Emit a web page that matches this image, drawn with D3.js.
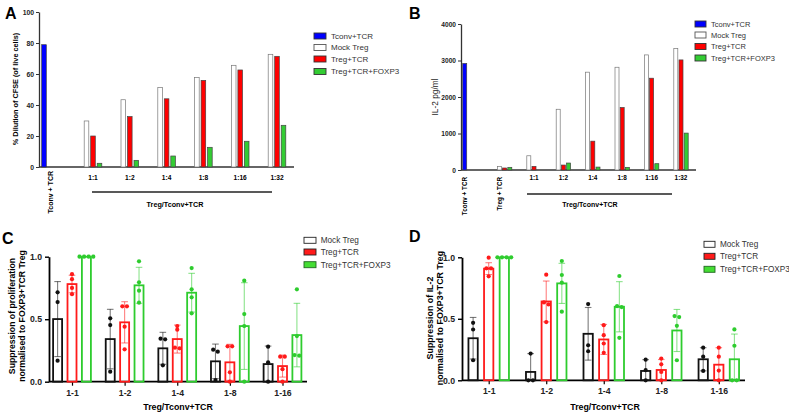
<!DOCTYPE html>
<html><head><meta charset="utf-8">
<script src="https://cdn.jsdelivr.net/npm/d3@7"></script>
<style>body{margin:0;background:#fff} svg{display:block} text{font-family:"Liberation Sans",Arial,sans-serif}</style>
</head><body><svg id="c" width="789" height="414"></svg>
<script>
// ---------- DATA ----------
const ratioCats = ["1:1","1:2","1:4","1:8","1:16","1:32"];
const seriesAB = ["Tconv+TCR","Mock Treg","Treg+TCR","Treg+TCR+FOXP3"];
const ctrlLabelA = "Tconv + TCR";
const ctrlLabelsB = ["Tconv + TCR","Treg + TCR"];
const yTicksA = [0,20,40,60,80,100];
const tconvA = 78.9;
const mockA = [29.7,43.4,51.2,57.8,65.6,72.7];
const tcrA  = [20.0,32.5,44.0,55.9,62.6,71.4];
const foxA  = [2.4,4.3,7.1,12.7,16.6,26.9];

const yTicksB = [0,1000,2000,3000,4000];
const tconvB = 2920;
const tregCtrlB = [100,55,73];           // Mock, Treg+TCR, Treg+TCR+FOXP3 in "Treg + TCR"
const mockB = [390,1664,2680,2815,3153,3326];
const tcrB  = [100,136,790,1713,2515,3016];
const foxB  = [0,191,80,73,173,1011];

const groupsCD = ["1-1","1-2","1-4","1-8","1-16"];
const seriesCD = ["Mock Treg","Treg+TCR","Treg+TCR+FOXP3"];
const yTicksCD = [0,0.5,1.0];

const meanC_mock = [0.501,0.341,0.267,0.163,0.141];
const meanC_tcr  = [0.781,0.475,0.341,0.155,0.125];
const meanC_fox  = [1.0,0.771,0.712,0.445,0.373];
const sdC_mock = [0.30,0.238,0.128,0.138,0.144];
const sdC_tcr  = [0.07,0.165,0.112,0.144,0.088];
const sdC_fox  = [0,0.144,0.155,0.347,0.254];
const ptsC_mock = [[0.715,0.637,0.168],[0.507,0.453,0.08],[0.344,0.339,0.131],[0.256,0.24,0.013],[0.28,0.155,0.0]];
const ptsC_tcr  = [[0.86,0.82,0.75,0.70],[0.603,0.603,0.44,0.259],[0.445,0.416,0.272,0.267],[0.283,0.283,0.075,0.0],[0.2,0.2,0.1,0.0]];
const ptsC_fox  = [[1,1,1,1],[0.963,0.795,0.728,0.632],[0.909,0.739,0.675,0.547],[0.808,0.541,0.445,0.0],[0.739,0.365,0.213,0.208]];

const meanD_mock = [0.342,0.068,0.378,0.076,0.171];
const meanD_tcr  = [0.908,0.641,0.332,0.084,0.127];
const meanD_fox  = [1.0,0.788,0.598,0.405,0.171];
const sdD_mock = [0.169,0.149,0.214,0.092,0.094];
const sdD_tcr  = [0.048,0.166,0.122,0.085,0.138];
const sdD_fox  = [0,0.163,0.204,0.171,0.205];
const ptsD_mock = [[0.467,0.413,0.163],[0.217,0,0],[0.62,0.285,0.236],[0.168,0.082,0],[0.265,0.192,0.076]];
const ptsD_tcr  = [[0.997,0.91,0.91,0.845],[0.859,0.633,0.617,0.473],[0.448,0.367,0.299,0.223],[0.177,0.13,0.068,0],[0.265,0.192,0.079,0]];
const ptsD_fox  = [[1,1,1,1],[0.97,0.856,0.794,0.558],[0.848,0.603,0.595,0.345],[0.522,0.514,0.443,0.163],[0.414,0.281,0,0]];

// ---------- STYLE ----------
const fillAB = ["#0000ff","#ffffff","#ff0000","#33cc33"];
const colCD = ["#111111","#ff1a1a","#2ecc2e"];
const svg = d3.select("#c");

function styleAxis(g, fs, sw, col){
  g.select(".domain").attr("stroke",col).attr("stroke-width",sw);
  g.selectAll(".tick line").attr("stroke",col).attr("stroke-width",sw*0.8);
  g.selectAll(".tick text").attr("font-size",fs).attr("font-weight","bold").attr("fill","#222")
   .attr("font-family","Liberation Sans, Arial, sans-serif");
}
function letter(t,x,y){
  svg.append("text").attr("x",x).attr("y",y).attr("font-size",16).attr("font-weight","bold").text(t);
}
function legend(items, fills, strokes, x, rows, sw, sh, tx, fs){
  const g = svg.append("g");
  items.forEach((t,i)=>{
    g.append("rect").attr("x",x).attr("y",rows[i]-sh/2).attr("width",sw).attr("height",sh)
     .attr("fill",fills[i]).attr("stroke",strokes[i]).attr("stroke-width",0.9);
    g.append("text").attr("x",tx).attr("y",rows[i]+fs*0.35).attr("font-size",fs).attr("fill","#333").text(t);
  });
}

// ---------- PANEL A ----------
(function(){
  const y = d3.scaleLinear().domain([0,100]).range([167,12]);
  const x = d3.scalePoint().domain(ratioCats).range([93,277]);
  const step = x.step(), slot = 6.5, bw = 4.6;
  const g = svg.append("g");
  const ax = g.append("g").attr("transform","translate(39,0)")
    .call(d3.axisLeft(y).tickValues(yTicksA).tickSize(3).tickSizeOuter(0).tickPadding(2));
  styleAxis(ax,6.8,1.3,"#333");
  g.append("line").attr("x1",39).attr("x2",294).attr("y1",y(0)).attr("y2",y(0)).attr("stroke","#333").attr("stroke-width",1.3);
  const ctr = x(ratioCats[0]) - 1.155*step;
  g.append("rect").attr("x",ctr-slot-bw/2).attr("y",y(tconvA)).attr("width",bw).attr("height",y(0)-y(tconvA))
    .attr("fill",fillAB[0]).attr("stroke","#333").attr("stroke-width",0.6);
  [mockA,tcrA,foxA].forEach((arr,s)=>{
    g.selectAll(null).data(arr).enter().append("rect")
      .attr("x",(d,i)=>x(ratioCats[i])+(s-1)*slot-bw/2).attr("y",d=>y(d))
      .attr("width",bw).attr("height",d=>y(0)-y(d))
      .attr("fill",fillAB[s+1]).attr("stroke",s===0?"#777":"#444").attr("stroke-width",0.7);
  });
  g.selectAll(null).data(ratioCats).enter().append("text")
    .attr("x",d=>x(d)).attr("y",179.5).attr("text-anchor","middle").attr("font-size",6.6).attr("font-weight","bold").text(d=>d);
  g.append("text").attr("transform",`translate(${ctr},171) rotate(-90)`).attr("text-anchor","end").attr("dy","0.35em")
    .attr("font-size",7).attr("font-weight","bold").text(ctrlLabelA);
  g.append("line").attr("x1",x("1:1")-1).attr("x2",x("1:32")-5).attr("y1",192).attr("y2",192).attr("stroke","#222").attr("stroke-width",1.6);
  g.append("text").attr("x",175).attr("y",206.5).attr("text-anchor","middle").attr("font-size",7.2).attr("font-weight","bold").text("Treg/Tconv+TCR");
  g.append("text").attr("transform","translate(15,89) rotate(-90)").attr("text-anchor","middle").attr("dy","0.35em")
    .attr("font-size",7.3).attr("font-weight","bold").text("% Dilution of CFSE (of live cells)");
  letter("A",5,18.5);
  legend(seriesAB, fillAB, ["#333","#555","#333","#333"], 314, [36,47.5,59,71.5], 12, 6, 331, 8);
})();

// ---------- PANEL B ----------
(function(){
  const y = d3.scaleLinear().domain([0,4000]).range([170,24]);
  const x = d3.scalePoint().domain(ratioCats).range([534,681]);
  const step = x.step(), slot = 5.2, bw = 4;
  const g = svg.append("g");
  const ax = g.append("g").attr("transform","translate(461,0)")
    .call(d3.axisLeft(y).tickValues(yTicksB).tickFormat(d3.format("d")).tickSize(3).tickSizeOuter(0).tickPadding(2));
  styleAxis(ax,6.6,1.3,"#333");
  g.append("line").attr("x1",461).attr("x2",696).attr("y1",y(0)).attr("y2",y(0)).attr("stroke","#333").attr("stroke-width",1.3);
  const tregCtr = x(ratioCats[0]) - step;
  const tconvCtr = x(ratioCats[0]) - 2.18*step;
  const bar = (cx,v,s)=>{ if(!v) return;
    g.append("rect").attr("x",cx-bw/2).attr("y",y(v)).attr("width",bw).attr("height",y(0)-y(v))
     .attr("fill",fillAB[s]).attr("stroke",s===1?"#777":"#444").attr("stroke-width",0.7); };
  bar(tconvCtr-slot,tconvB,0);
  tregCtrlB.forEach((v,s)=>bar(tregCtr+(s-1)*slot,v,s+1));
  [mockB,tcrB,foxB].forEach((arr,s)=>arr.forEach((v,i)=>bar(x(ratioCats[i])+(s-1)*slot,v,s+1)));
  g.selectAll(null).data(ratioCats).enter().append("text")
    .attr("x",d=>x(d)).attr("y",180).attr("text-anchor","middle").attr("font-size",6.4).attr("font-weight","bold").text(d=>d);
  [tconvCtr,tregCtr].forEach((c,i)=>{
    g.append("text").attr("transform",`translate(${c-slot},177) rotate(-90)`).attr("text-anchor","end").attr("dy","0.35em")
      .attr("font-size",6.3).attr("font-weight","bold").text(ctrlLabelsB[i]);
  });
  g.append("line").attr("x1",x("1:1")-7).attr("x2",x("1:32")-9).attr("y1",194).attr("y2",194).attr("stroke","#222").attr("stroke-width",1.6);
  g.append("text").attr("x",590).attr("y",206.5).attr("text-anchor","middle").attr("font-size",7).attr("font-weight","bold").text("Treg/Tconv+TCR");
  g.append("text").attr("transform","translate(435,97) rotate(-90)").attr("text-anchor","middle").attr("dy","0.35em")
    .attr("font-size",8.3).attr("fill","#222").text("IL-2 pg/ml");
  letter("B",409,18.5);
  legend(seriesAB, fillAB, ["#333","#555","#333","#333"], 695, [24,35,46.5,58], 11, 6, 711, 7.5);
})();

// ---------- PANELS C & D ----------
function drawCD(cfg){
  const y = d3.scaleLinear().domain([0,1]).range([cfg.y0,cfg.y1]);
  const x = d3.scalePoint().domain(groupsCD).range(cfg.xr);
  const g = svg.append("g");
  const ax = g.append("g").attr("transform",`translate(${cfg.ax},0)`)
    .call(d3.axisLeft(y).tickValues(yTicksCD).tickFormat(d3.format(".1f")).tickSize(4).tickSizeOuter(0).tickPadding(3));
  styleAxis(ax,8.7,1.8,"#000");
  const xa = g.append("g").attr("transform",`translate(0,${cfg.y0})`)
    .call(d3.axisBottom(x).tickSize(4).tickSizeOuter(0).tickPadding(4));
  xa.select(".domain").remove();
  xa.selectAll(".tick line").attr("stroke","#000").attr("stroke-width",1.2);
  xa.selectAll(".tick text").attr("font-size",8.7).attr("font-weight","bold").attr("fill","#222")
    .attr("font-family","Liberation Sans, Arial, sans-serif");
  g.append("line").attr("x1",cfg.ax).attr("x2",cfg.xend).attr("y1",cfg.y0).attr("y2",cfg.y0).attr("stroke","#000").attr("stroke-width",1.8);
  const means=cfg.means, sds=cfg.sds, pts=cfg.pts;
  means.forEach((arr,s)=>{
    arr.forEach((m,i)=>{
      const cx = x(groupsCD[i]) + (s-1)*cfg.slot;
      g.append("rect").attr("x",cx-cfg.bw/2).attr("y",y(m)).attr("width",cfg.bw).attr("height",y(0)-y(m))
        .attr("fill","none").attr("stroke",colCD[s]).attr("stroke-width",1.8);
      const sd = sds[s][i];
      if(sd>0){
        const eg = g.append("g").attr("stroke",colCD[s]).attr("stroke-opacity",0.55).attr("stroke-width",1.1);
        const lo = Math.max(0,m-sd), hi = m+sd;
        eg.append("line").attr("x1",cx).attr("x2",cx).attr("y1",y(lo)).attr("y2",y(hi));
        eg.append("line").attr("x1",cx-3.3).attr("x2",cx+3.3).attr("y1",y(hi)).attr("y2",y(hi));
        eg.append("line").attr("x1",cx-3.3).attr("x2",cx+3.3).attr("y1",y(lo)).attr("y2",y(lo));
      }
    });
  });
  pts.forEach((arr,s)=>{
    arr.forEach((vals,i)=>{
      const cx = x(groupsCD[i]) + (s-1)*cfg.slot;
      const sorted = vals.slice().sort((a,b)=>b-a);
      const clusters=[]; sorted.forEach(v=>{
        const last=clusters[clusters.length-1];
        if(last && Math.abs(y(last[last.length-1])-y(v))<3.6) last.push(v); else clusters.push([v]);
      });
      clusters.forEach(cl=>cl.forEach((v,k)=>{
        g.append("circle").attr("cx",cx+(k-(cl.length-1)/2)*4.6).attr("cy",y(v)).attr("r",2.1).attr("fill",colCD[s]);
      }));
    });
  });
  g.append("text").attr("x",cfg.xlx).attr("y",410).attr("text-anchor","middle").attr("font-size",8.8).attr("font-weight","bold").text("Treg/Tconv+TCR");
  cfg.ylab.forEach((t,k)=>{
    g.append("text").attr("transform",`translate(${cfg.ylx[k]},${cfg.yly}) rotate(-90)`).attr("text-anchor","middle").attr("dy","0.35em")
      .attr("font-size",cfg.ylfs).attr("font-weight","bold").text(t);
  });
  letter(cfg.letter,cfg.lx,cfg.ly);
  legend(seriesCD, ["#ffffff","#ff1a1a","#44dd33"], ["#222","#222","#226622"], cfg.lgx, cfg.lgrows, cfg.lgw, 6, cfg.lgtx, 8.2);
}
drawCD({y0:381.7,y1:256.7,xr:[72,282.5],ax:49,xend:307,slot:14.4,bw:9,
  means:[meanC_mock,meanC_tcr,meanC_fox],sds:[sdC_mock,sdC_tcr,sdC_fox],pts:[ptsC_mock,ptsC_tcr,ptsC_fox],
  xlx:178,ylab:["Suppression of proliferation","normalised to FOXP3+TCR Treg"],ylx:[12,22],yly:316,ylfs:8.7,
  letter:"C",lx:2,ly:243.5,lgx:304,lgrows:[240.3,252,264.7],lgw:12,lgtx:320.7});
drawCD({y0:380.3,y1:257.3,xr:[488.7,718.8],ax:462,xend:745,slot:15.6,bw:9.3,
  means:[meanD_mock,meanD_tcr,meanD_fox],sds:[sdD_mock,sdD_tcr,sdD_fox],pts:[ptsD_mock,ptsD_tcr,ptsD_fox],
  xlx:605,ylab:["Suppression of IL-2","normalised to FOXP3+TCR Treg"],ylx:[429.5,439.5],yly:318,ylfs:8.9,
  letter:"D",lx:409,ly:242,lgx:704,lgrows:[244.3,256.3,269.3],lgw:11,lgtx:720});
</script></body></html>
